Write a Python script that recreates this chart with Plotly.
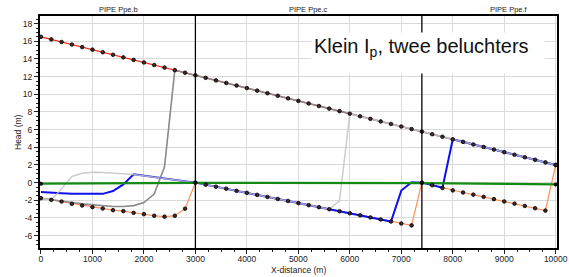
import plotly.graph_objects as go

# ---------------- data ----------------
x_grid = [i * 200 for i in range(51)]  # 0 .. 10000 m, node spacing

head_max = [16.50, 16.21, 15.92, 15.63, 15.34, 15.05, 14.76, 14.47, 14.18, 13.89,
            13.60, 13.31, 13.02, 12.73, 12.44, 12.15, 11.86, 11.57, 11.28, 10.99,
            10.70, 10.41, 10.12, 9.83, 9.54, 9.25, 8.96, 8.67, 8.38, 8.09,
            7.80, 7.51, 7.22, 6.93, 6.64, 6.35, 6.06, 5.77, 5.48, 5.19,
            4.90, 4.61, 4.32, 4.03, 3.74, 3.45, 3.16, 2.87, 2.58, 2.29, 2.00]

head_min = [-1.76, -1.95, -2.14, -2.40, -2.59, -2.78, -2.93, -3.12, -3.23, -3.42,
            -3.57, -3.75, -3.85, -3.75, -2.95, 0.00, -0.23, -0.46, -0.69, -0.93,
            -1.16, -1.39, -1.62, -1.85, -2.08, -2.32, -2.55, -2.78, -3.01, -3.24,
            -3.47, -3.70, -3.94, -4.17, -4.40, -4.63, -4.84, 0.00, -0.30, -0.60,
            -0.88, -1.12, -1.36, -1.61, -1.87, -2.13, -2.38, -2.64, -2.90, -3.17, 2.00]

steady_x = [0, 3000, 7400, 10000]
steady_y = [-0.12, -0.02, -0.05, -0.20]

blue_x = [0, 200, 400, 600, 800, 1000, 1200, 1400, 1600, 1800, 3000,
          6800, 7000, 7200, 7400, 7600, 7800, 8000, 10000]
blue_y = [-1.05, -1.15, -1.20, -1.25, -1.28, -1.30, -1.27, -0.95, -0.20, 0.95, 0.00,
          -4.40, -0.90, 0.05, 0.00, -0.28, -0.58, 4.90, 2.00]

dgray_x = [0, 200, 400, 600, 800, 1000, 1200, 1400, 1600, 1800, 2000, 2200, 2400, 2600, 10000]
dgray_y = [-1.76, -1.95, -2.10, -2.25, -2.40, -2.50, -2.60, -2.70, -2.70, -2.60, -2.25,
           -1.30, 1.80, 12.73, 2.00]

lgray_x = [0, 200, 400, 600, 800, 1000, 1200, 1400, 1600, 1800, 3000, 5600, 5800, 6000, 10000]
lgray_y = [-1.76, -2.00, -0.70, 0.70, 1.06, 1.17, 1.15, 1.08, 1.00, 0.92, 0.00, -3.01,
           -2.07, 7.80, 2.00]

pipe_bounds = [3000, 7400]
pipe_names = ["PIPE Ppe.b", "PIPE Ppe.c", "PIPE Ppe.f"]
pipe_label_x = [1500, 5200, 9100]

x_ticks = [0, 1000, 2000, 3000, 4000, 5000, 6000, 7000, 8000, 9000, 10000]
x_tick_text = ["0", "1000", "2000", "3000", "4000", "5000", "6000", "7000", "8000", "9000", "10000"]
y_ticks = [-6, -4, -2, 0, 2, 4, 6, 8, 10, 12, 14, 16, 18]
y_tick_text = ["-6", "-4", "-2", "0", "2", "4", "6", "8", "10", "12", "14", "16", "18"]

title_text = "Klein I<sub>p</sub>, twee beluchters"

# ---------------- figure ----------------
FONT = "Liberation Sans, Arial, sans-serif"
W, H = 569, 277
ML, MR, MT, MB = 40, 12, 16, 29
PW, PH = W - ML - MR, H - MT - MB

fig = go.Figure()

fig.add_trace(go.Scatter(x=x_grid, y=head_max, mode="lines",
                         line=dict(color="#ff2a1a", width=1.2), hoverinfo="skip"))
fig.add_trace(go.Scatter(x=x_grid, y=head_min, mode="lines",
                         line=dict(color="#ff8c55", width=1.2), hoverinfo="skip"))
fig.add_trace(go.Scatter(x=dgray_x, y=dgray_y, mode="lines",
                         line=dict(color="#8a8a8a", width=1.6), hoverinfo="skip"))
fig.add_trace(go.Scatter(x=blue_x, y=blue_y, mode="lines",
                         line=dict(color="#1010ee", width=2), hoverinfo="skip"))
fig.add_trace(go.Scatter(x=lgray_x, y=lgray_y, mode="lines",
                         line=dict(color="#c4c4c8", width=1.5), opacity=0.85, hoverinfo="skip"))
fig.add_trace(go.Scatter(x=steady_x, y=steady_y, mode="lines",
                         line=dict(color="#138a13", width=2.2), hoverinfo="skip"))
# node markers
node_marker = dict(symbol="circle", size=3.6, color="#3a2a2a", line=dict(width=0.8, color="#000"))
fig.add_trace(go.Scatter(x=x_grid, y=head_max, mode="markers", marker=node_marker, hoverinfo="skip"))
fig.add_trace(go.Scatter(x=x_grid, y=head_min, mode="markers", marker=node_marker, hoverinfo="skip"))
fig.add_trace(go.Scatter(x=steady_x, y=steady_y, mode="markers",
                         marker=dict(symbol="circle", size=4, color="#111"), hoverinfo="skip"))

for xb in pipe_bounds:
    fig.add_shape(type="line", xref="x", yref="paper", x0=xb, x1=xb, y0=0, y1=1,
                  line=dict(color="black", width=1.3), layer="above")


def px_x(p):  # page pixel -> paper x
    return (p - ML) / PW


def px_y(p):  # page pixel -> paper y
    return (H - MB - p) / PH


annotations = []
for name, xc in zip(pipe_names, pipe_label_x):
    annotations.append(dict(x=xc, y=px_y(10), xref="x", yref="paper", text=name,
                            showarrow=False, xanchor="center", yanchor="middle",
                            font=dict(family=FONT, size=7.5, color="#222")))
annotations.append(dict(x=px_x(18), y=px_y(132), xref="paper", yref="paper", text="Head (m)",
                        textangle=-90, showarrow=False, xanchor="center", yanchor="middle",
                        font=dict(family=FONT, size=8.5, color="#222")))
annotations.append(dict(x=0.5, y=px_y(270), xref="paper", yref="paper", text="X-distance (m)",
                        showarrow=False, xanchor="center", yanchor="middle",
                        font=dict(family=FONT, size=8.5, color="#222")))
annotations.append(dict(x=px_x(311), y=px_y(32), xref="paper", yref="paper",
                        text=title_text, showarrow=False, xanchor="left", yanchor="top",
                        width=228, height=36, align="left", valign="top",
                        bgcolor="white", borderpad=2,
                        font=dict(family=FONT, size=20, color="#111")))

axis_common = dict(ticks="outside", ticklen=4, tickcolor="#222", tickwidth=1,
                   showgrid=True, gridcolor="#dadada", gridwidth=1,
                   showline=True, linecolor="black", linewidth=2, mirror=True, zeroline=False,
                   automargin=False,
                   tickfont=dict(family=FONT, size=8.5, color="#222"))

fig.update_layout(
    width=W, height=H,
    margin=dict(l=ML, r=MR, t=MT, b=MB, pad=0),
    plot_bgcolor="white", paper_bgcolor="white",
    showlegend=False,
    annotations=annotations,
    xaxis=dict(range=[-19, 10025], tickmode="array", tickvals=x_ticks, ticktext=x_tick_text,
               ticklabelstandoff=-2,
               minor=dict(tickmode="linear", tick0=0, dtick=250, ticks="outside", ticklen=2,
                          tickcolor="#222", showgrid=False),
               **axis_common),
    yaxis=dict(range=[-7.4, 18.86], tickmode="array", tickvals=y_ticks, ticktext=y_tick_text,
               minor=dict(tickmode="linear", tick0=0, dtick=0.5, ticks="outside", ticklen=2,
                          tickcolor="#222", showgrid=False),
               **axis_common),
)

# remove the browser's default 8px body margin so the figure sits at the page origin
fig.write_html("out.html", config={"displayModeBar": False, "staticPlot": True},
               post_script="document.body.style.margin='0px';")
